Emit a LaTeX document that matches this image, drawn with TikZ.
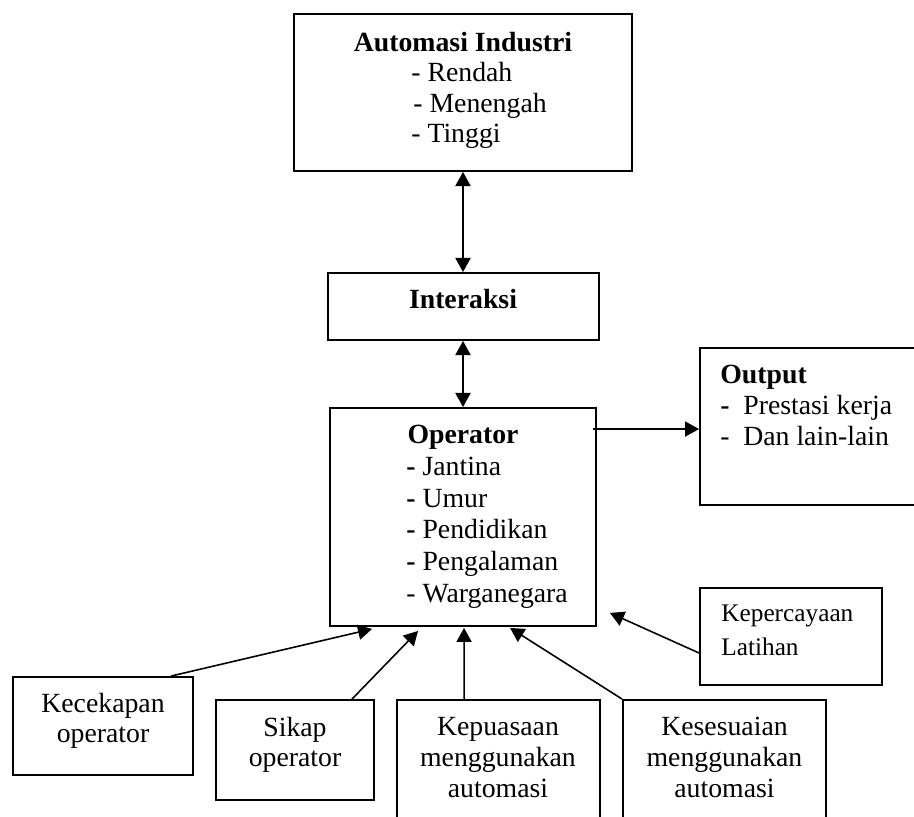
\documentclass[tikz,border=0pt]{standalone}
\usepackage{fontspec}
\setmainfont{Liberation Serif}
\usetikzlibrary{arrows.meta,positioning,calc}

\begin{document}
\begin{tikzpicture}[x=0.02cm, y=-0.02cm,
    kotak/.style={draw, line width=1.1pt, inner sep=0pt},
    teks/.style={inner sep=0pt, font=\fontsize{15.8}{18}\selectfont},
    tekskecil/.style={inner sep=0pt, font=\fontsize{14.4}{17}\selectfont},
    panah/.style={line width=0.9pt, -{Triangle[length=8pt,width=8.6pt]}},
    panahdua/.style={line width=0.9pt, {Triangle[length=8pt,width=8.6pt]}-{Triangle[length=8pt,width=8.6pt]}}]

    \useasboundingbox (0,0) rectangle (914,817);
    \clip (0,0) rectangle (914,817);

    % draw boxes
    \node[kotak, minimum width=6.76cm, minimum height=3.14cm] (automasi) at (463,92.5) {};
    \node[kotak, minimum width=5.42cm, minimum height=1.34cm] (interaksi) at (463.5,306.5) {};
    \node[kotak, minimum width=5.32cm, minimum height=4.36cm] (operator) at (463,517) {};
    \node[kotak, minimum width=4.6cm, minimum height=3.14cm] (output) at (815,426.5) {};
    \node[kotak, minimum width=3.64cm, minimum height=1.94cm] (kepercayaan) at (791,636.5) {};
    \node[kotak, minimum width=3.6cm, minimum height=1.96cm] (kecekapan) at (103,726) {};
    \node[kotak, minimum width=3.16cm, minimum height=2cm] (sikap) at (295,750) {};
    \node[kotak, minimum width=4.06cm, minimum height=2.8cm] (kepuasaan) at (498.5,770) {};
    \node[kotak, minimum width=4.06cm, minimum height=2.8cm] (kesesuaian) at (724.5,770) {};

    % draw texts
    \node[teks, anchor=base] (tajukautomasi) at (463,52) {\textbf{Automasi Industri}};
    \node[teks, anchor=base west] (rendah) at (411,82) {- Rendah};
    \node[teks, anchor=base west] (menengah) at (413,113) {- Menengah};
    \node[teks, anchor=base west] (tinggi) at (411,143) {- Tinggi};

    \node[teks, anchor=base] (tajukinteraksi) at (463,309) {\textbf{Interaksi}};

    \node[teks, anchor=base] (tajukoperator) at (463,444) {\textbf{Operator}};
    \foreach \y/\t [count=\i] in {476/Jantina, 508/Umur, 539/Pendidikan, 571/Pengalaman}
      \node[teks, anchor=base west] (op\i) at (406,\y) {\textbf{-} \t};
    \node[teks, anchor=base west] (op5) at (406,603) {- Warganegara};

    \node[teks, anchor=base west] (tajukoutput) at (720,384) {\textbf{Output}};
    \node[teks, anchor=base west] (out1) at (720,415) {\makebox[0.46cm][l]{\textbf{-}}Prestasi kerja};
    \node[teks, anchor=base west] (out2) at (720,446) {\makebox[0.46cm][l]{-}Dan lain-lain};

    \node[tekskecil, anchor=base west] (kp1) at (721,622) {Kepercayaan};
    \node[tekskecil, anchor=base west] (kp2) at (721,656) {Latihan};

    \node[teks, anchor=base] (kc1) at (103,713) {Kecekapan};
    \node[teks, anchor=base] (kc2) at (103,743) {operator};

    \node[teks, anchor=base] (sk1) at (295,737) {Sikap};
    \node[teks, anchor=base] (sk2) at (295,767) {operator};

    \foreach \x/\a in {498/Kepuasaan, 724.5/Kesesuaian} {
      \node[teks, anchor=base] at (\x,736) {\a};
      \node[teks, anchor=base] at (\x,767) {menggunakan};
      \node[teks, anchor=base] at (\x,798) {automasi};
    }

    % draw arrows
    \draw[panahdua] (automasi.south) -- (automasi.south |- interaksi.north);
    \draw[panahdua] (interaksi.south -| automasi.south) -- (automasi.south |- operator.north);
    \draw[panah] ($(operator.north east)+(-4,22)$) coordinate (keluar) -- (keluar -| output.west);

    \coordinate (hujung) at ($(operator.south east)+(13,-14)$);
    \draw[panah] ($(kepercayaan.west)+(0,16.5)$) -- (hujung);
    \draw[panah] ($(kecekapan.north west)+(159,0)$) -- ($(operator.south west)+(43,2)$);
    \draw[panah] ($(sikap.north west)+(137,0)$) -- ($(operator.south west)+(89,4)$);
    \draw[panah] ($(kepuasaan.north west)+(68,0)$) -- ($(operator.south west)+(135,1)$);
    \draw[panah] (kesesuaian.north west) -- ($(operator.south west)+(181,1)$);
\end{tikzpicture}
\end{document}
